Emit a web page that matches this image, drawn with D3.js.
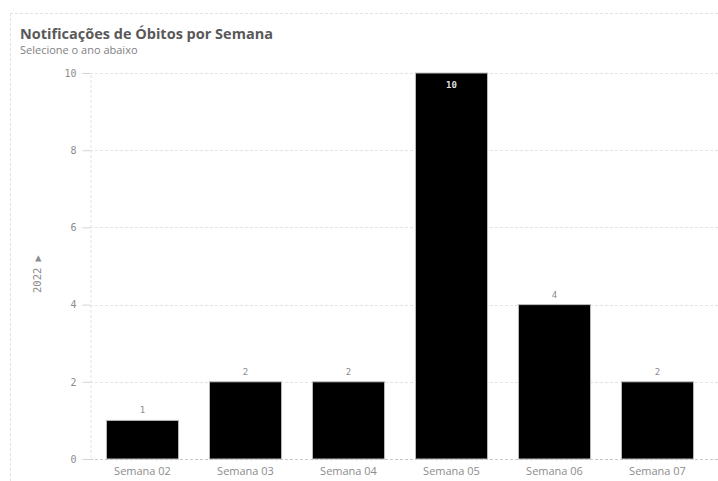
<!DOCTYPE html>
<html>
<head>
<meta charset="utf-8">
<script src="https://cdn.jsdelivr.net/npm/d3@7"></script>
<style>
  body { margin: 0; background: #fff; }
  svg text { font-family: "DejaVu Sans Mono", monospace; }
</style>
</head>
<body>
<div id="chart"></div>
<script>
// data
var semanas = ["Semana 02", "Semana 03", "Semana 04", "Semana 05", "Semana 06", "Semana 07"]
var obitos = [1, 2, 2, 10, 4, 2]
var yTicks = [0, 2, 4, 6, 8, 10]
var ano = "2022"

var width = 718, height = 481
var svg = d3.select("#chart").append("svg")
  .attr("width", width)
  .attr("height", height)

// card border (dashed)
svg.append("line")
  .attr("x1", 10).attr("x2", width).attr("y1", 13.5).attr("y2", 13.5)
  .attr("stroke", "#e2e2e2").attr("stroke-dasharray", "3,2")
svg.append("line")
  .attr("x1", 10.5).attr("x2", 10.5).attr("y1", 13).attr("y2", height)
  .attr("stroke", "#e2e2e2").attr("stroke-dasharray", "3,2")

// title
svg.append("text")
  .attr("x", 20).attr("y", 39)
  .style("font-family", "'Open Sans', sans-serif")
  .style("font-weight", "bold")
  .style("font-size", "14.5px")
  .attr("fill", "#595959")
  .text("Notificações de Óbitos por Semana")
svg.append("text")
  .attr("x", 20).attr("y", 54)
  .style("font-family", "'Open Sans', sans-serif")
  .style("font-size", "11px")
  .attr("fill", "#7f7f7f")
  .text("Selecione o ano abaixo")

var x = d3.scaleBand()
  .domain(semanas)
  .range([91, 709])
  .paddingInner(0.3)
  .paddingOuter(0.15)

var y = d3.scaleLinear()
  .domain([0, 10])
  .range([459, 73])

// grid
svg.append("g")
  .selectAll("line")
  .data(yTicks)
  .enter().append("line")
  .attr("x1", 90).attr("x2", width)
  .attr("y1", d => Math.round(y(d)) + 0.5)
  .attr("y2", d => Math.round(y(d)) + 0.5)
  .attr("stroke", d => d == 0 ? "#c8c8c8" : "#e4e4e4")
  .attr("stroke-dasharray", "3,2")

// y axis
var yAxis = svg.append("g")
  .attr("transform", "translate(90.5,0)")
  .call(d3.axisLeft(y).tickValues(yTicks).tickSize(8).tickPadding(6))
yAxis.select(".domain").attr("stroke", "#e2e2e2").attr("stroke-dasharray", "3,2")
yAxis.selectAll(".tick line").attr("stroke", "#d4d4d4")
yAxis.selectAll(".tick text")
  .attr("fill", "#8c8c8c")
  .style("font-size", "10px")
  .style("font-family", "'DejaVu Sans Mono', monospace")

// x axis labels
var xAxis = svg.append("g")
  .attr("transform", "translate(0,459)")
  .call(d3.axisBottom(x).tickSize(0).tickPadding(8))
xAxis.select(".domain").remove()
xAxis.selectAll(".tick text")
  .attr("fill", "#8c8c8c")
  .style("font-size", "11px")
  .style("font-family", "'Open Sans', sans-serif")

// bars
svg.append("g")
  .selectAll("rect")
  .data(obitos)
  .enter().append("rect")
  .attr("x", (d, i) => x(semanas[i]))
  .attr("y", d => y(d))
  .attr("width", x.bandwidth())
  .attr("height", d => y(0) - y(d))
  .attr("fill", "#000")
  .attr("stroke", "#bdbdbd")
  .attr("stroke-width", 1)

// value labels
svg.append("g")
  .selectAll("text")
  .data(obitos)
  .enter().append("text")
  .attr("x", (d, i) => x(semanas[i]) + x.bandwidth() / 2)
  .attr("y", d => d == 10 ? y(d) + 15 : y(d) - 7)
  .attr("text-anchor", "middle")
  .attr("fill", d => d == 10 ? "#e0e0e0" : "#8c8c8c")
  .style("font-weight", d => d == 10 ? "bold" : "normal")
  .style("font-size", "9px")
  .text(d => d)

// dimension selector (rotated)
svg.append("text")
  .attr("transform", "translate(41,293) rotate(-90)")
  .attr("fill", "#8c8c8c")
  .style("font-size", "10.5px")
  .text(ano + " \u25B6")
</script>
</body>
</html>
